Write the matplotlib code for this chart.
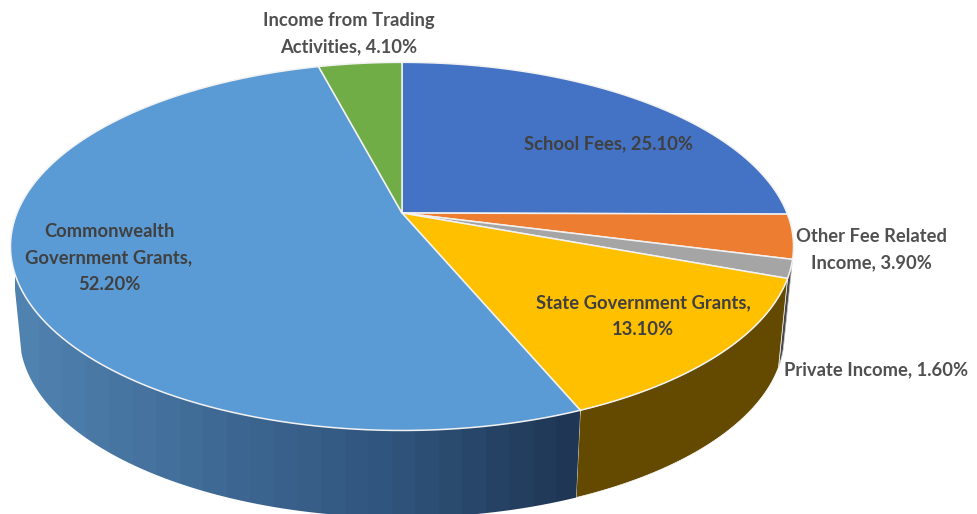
import numpy as np
import matplotlib.pyplot as plt
from matplotlib.colors import LinearSegmentedColormap
from matplotlib.patches import Polygon

shares = [25.1, 3.9, 1.6, 13.1, 52.2, 4.1]
colors = ['#4472C4', '#ED7D31', '#A5A5A5', '#FFC000', '#5B9BD5', '#70AD47']
labels = ['School Fees, 25.10%', 'Other Fee Related\nIncome, 3.90%', 'Private Income, 1.60%',
          'State Government Grants,\n13.10%', 'Commonwealth\nGovernment Grants,\n52.20%',
          'Income from Trading\nActivities, 4.10%']
label_x = [608, 871, 876, 643, 109, 349]
label_y = [144, 250, 370, 316, 258, 34]

plt.rcParams['font.family'] = ['Lato', 'DejaVu Sans']


# disc seen in perspective, angle in degrees clockwise from the top
def disc(deg, cy, a, b, k=0.1815):
	t = np.radians(deg)
	x, y = np.sin(t), np.cos(t)
	d = 1 + k * y
	return 402 + a * x / d, cy - b * y / d


def top(deg):
	return disc(deg, 213, 385, 178)


def bottom(deg):
	return disc(deg, 302.5, 376, 176)


def wall(start, end):
	t = np.linspace(start, end, 80)
	x1, y1 = top(t)
	x2, y2 = bottom(t[::-1])
	return np.column_stack([np.r_[x1, x2], np.r_[y1, y2]])


edges = np.r_[0, np.cumsum(shares)] * 3.6

fig = plt.figure(figsize=(9.77, 5.14), dpi=100)
ax = fig.add_axes([0, 0, 1, 1])
ax.set_xlim(0, 977)
ax.set_ylim(514, 0)
ax.axis('off')

# side walls
ax.add_patch(Polygon(wall(edges[1], edges[2]), fc='#7A4420', ec='none'))
ax.add_patch(Polygon(wall(edges[2], edges[3]), fc='#4A4A4A', ec='#D8D8D8', lw=0.5))
ax.add_patch(Polygon(wall(edges[3], edges[4]), fc='#634A00', ec='white', lw=0.5))

blues = LinearSegmentedColormap.from_list('wall', ['#5082B0', '#3F6A96', '#30557D', '#1F3755'])
shade = np.linspace(0, 1, 24).reshape(1, -1)
im = ax.imshow(shade, cmap=blues, extent=[15, 580, 514, 200], aspect='auto', interpolation='nearest', zorder=2)
blue_wall = Polygon(wall(edges[4], 254), fc='none', ec='none', transform=ax.transData)
ax.add_patch(blue_wall)
im.set_clip_path(blue_wall)
ax.set_xlim(0, 977)
ax.set_ylim(514, 0)

# top face
for i in range(len(shares)):
	t = np.linspace(edges[i], edges[i + 1], 120)
	x, y = top(t)
	pts = np.column_stack([np.r_[402, x], np.r_[213, y]])
	ax.add_patch(Polygon(pts, fc=colors[i], ec='#F2F2F2', lw=1.1, joinstyle='round', zorder=3))

for i in range(len(labels)):
	c = '#404040' if i in (0, 3, 4) else '#505050'
	ax.text(label_x[i], label_y[i], labels[i], ha='center', va='center', color=c, fontsize=13.2,
	        fontweight='bold', linespacing=1.67, zorder=4)

fig.savefig('out.png', dpi=100)
